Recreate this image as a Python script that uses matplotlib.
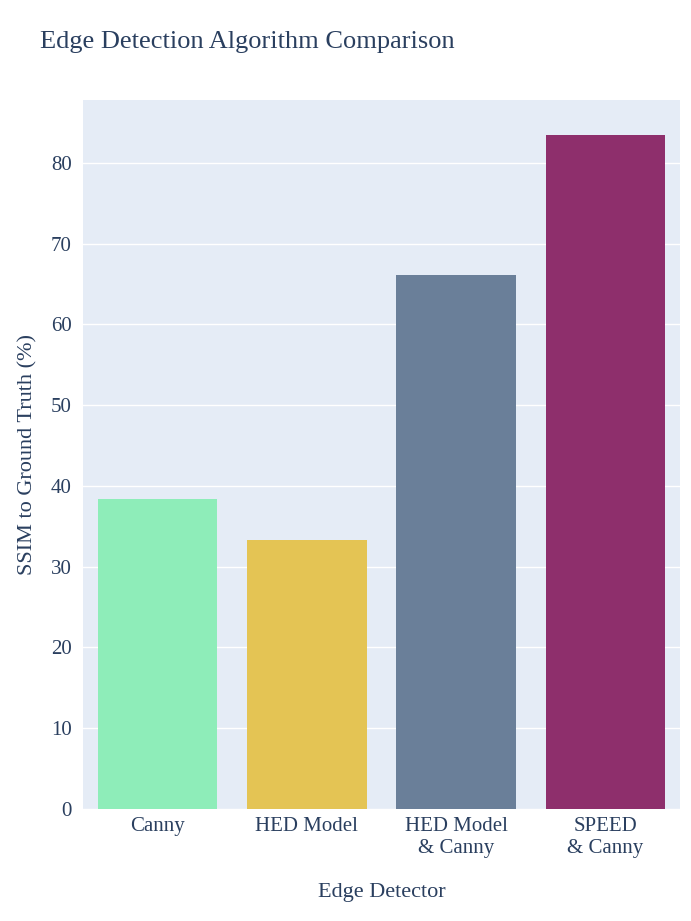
import matplotlib.pyplot as plt

categories = ["Canny", "HED Model", "HED Model\n& Canny", "SPEED\n& Canny"]
ssim = [38.4, 33.3, 66.1, 83.5]
colors = ["#8eedb9", "#e4c454", "#6a7f99", "#8e2f6c"]

plt.rcParams['font.family'] = ['Liberation Serif', 'DejaVu Serif']
text_color = "#2a3f5f"

fig = plt.figure(figsize=(6.91, 9.21), dpi=100)
ax = fig.add_axes([83/691, 1 - 809/921, (680-83)/691, (809-100)/921])
ax.set_facecolor("#e5ecf6")
x = range(len(categories))
ax.bar(x, ssim, width=0.8, color=colors, zorder=3)
ax.set_xlim(-0.5, 3.5)
ax.set_ylim(0, 87.8)
ax.set_yticks(range(0, 81, 10))
ax.set_xticks(list(x))
ax.set_xticklabels(categories, fontsize=15, color=text_color, va="top")
ax.tick_params(axis="y", labelsize=15, colors=text_color, length=0, pad=8)
ax.tick_params(axis="x", length=0, pad=6)
ax.grid(axis="y", color="white", linewidth=1, zorder=0)
for s in ax.spines.values():
    s.set_visible(False)
ax.set_xlabel("Edge Detector", fontsize=16, color=text_color, labelpad=18)
ax.set_ylabel("SSIM to Ground Truth (%)", fontsize=16, color=text_color, labelpad=10)
fig.text(40/691, 1 - 42/921, "Edge Detection Algorithm Comparison", fontsize=19,
         color=text_color, va="center")
fig.savefig("out.png", dpi=100)
